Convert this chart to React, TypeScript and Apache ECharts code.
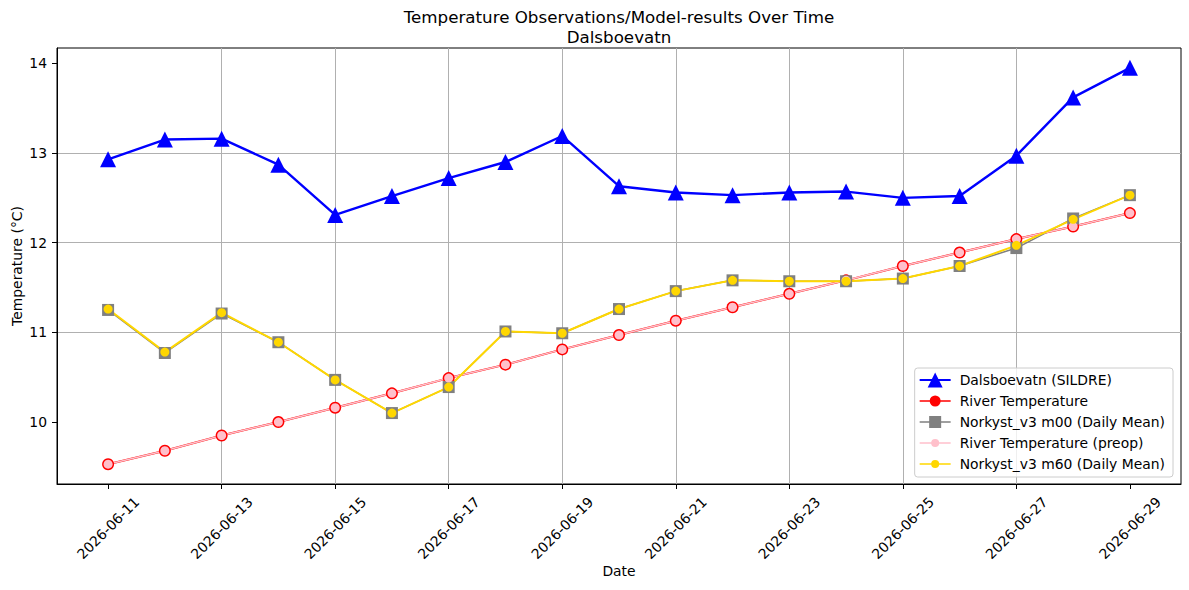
import { useEffect, useRef } from 'react';
import * as echarts from 'echarts';

const dates = [
  '2026-06-11', '2026-06-12', '2026-06-13', '2026-06-14', '2026-06-15',
  '2026-06-16', '2026-06-17', '2026-06-18', '2026-06-19', '2026-06-20',
  '2026-06-21', '2026-06-22', '2026-06-23', '2026-06-24', '2026-06-25',
  '2026-06-26', '2026-06-27', '2026-06-28', '2026-06-29',
];
const sildre = [12.93, 13.15, 13.16, 12.87, 12.31, 12.52, 12.72, 12.9, 13.19, 12.63, 12.56, 12.53, 12.56, 12.57, 12.5, 12.52, 12.97, 13.62, 13.95];
const riverTemp = [9.53, 9.68, 9.85, 10.0, 10.16, 10.32, 10.49, 10.64, 10.81, 10.97, 11.13, 11.28, 11.43, 11.58, 11.74, 11.89, 12.04, 12.18, 12.33];
const norkystM00 = [11.25, 10.77, 11.21, 10.89, 10.47, 10.1, 10.39, 11.01, 10.99, 11.26, 11.46, 11.58, 11.57, 11.57, 11.6, 11.74, 11.94, 12.27, 12.53];
const riverTempPreop = [9.53, 9.68, 9.85, 10.0, 10.16, 10.32, 10.49, 10.64, 10.81, 10.97, 11.13, 11.28, 11.43, 11.58, 11.74, 11.89, 12.04, 12.18, 12.33];
const norkystM60 = [11.26, 10.78, 11.22, 10.89, 10.47, 10.1, 10.39, 11.01, 10.99, 11.26, 11.46, 11.58, 11.57, 11.57, 11.6, 11.74, 11.97, 12.26, 12.53];
const yTicks = [10, 11, 12, 13, 14];
const seriesNames = [
  'Dalsboevatn (SILDRE)',
  'River Temperature',
  'Norkyst_v3 m00 (Daily Mean)',
  'River Temperature (preop)',
  'Norkyst_v3 m60 (Daily Mean)',
];
const titleText = 'Temperature Observations/Model-results Over Time\nDalsboevatn';

const DAY = 86400000;
const t0 = Date.parse(dates[0]);
const dayIdx = dates.map((d) => (Date.parse(d) - t0) / DAY);
const xTicks = dayIdx.filter((v) => v % 2 === 0);
const pts = (vals: number[]) => vals.map((v, i) => [dayIdx[i], v]);
const fmtDate = (v: number) => new Date(t0 + v * DAY).toISOString().slice(0, 10);

const allVals = [...sildre, ...riverTemp, ...norkystM00, ...riverTempPreop, ...norkystM60];
const yLo = Math.min(...allVals);
const yHi = Math.max(...allVals);
const yPad = (yHi - yLo) * 0.05;
const xLo = dayIdx[0];
const xHi = dayIdx[dayIdx.length - 1];
const xPad = (xHi - xLo) * 0.05;

const FONT = 'DejaVu Sans';
const FS = 13.9;

// tiny corner specks keep every legend icon's bounding box at 31x16
const frame = 'M0 0 h0.01 v0.01 h-0.01 Z M30.99 15.99 h0.01 v0.01 h-0.01 Z ';
const lineRect = (w: number) => `M0 ${8 - w / 2} H31 V${8 + w / 2} H0 Z`;
const circ = (r: number) => `M${15.5 - r} 8 A${r} ${r} 0 1 1 ${15.5 + r} 8 A${r} ${r} 0 1 1 ${15.5 - r} 8 Z`;
const icons = [
  'path://' + frame + lineRect(2.2) + ' M15.5 0.5 L23 15.5 L8 15.5 Z',
  'path://' + frame + lineRect(1.5) + ' ' + circ(5.5),
  'path://' + frame + lineRect(1.5) + ' M9.5 2 H21.5 V14 H9.5 Z',
  'path://' + frame + lineRect(1.5) + ' ' + circ(4),
  'path://' + frame + lineRect(1.5) + ' ' + circ(4),
];
const colors = ['#0000ff', '#ff0000', '#808080', '#ffc0cb', '#ffd700'];

export default function App() {
  const ref = useRef<HTMLDivElement>(null);
  useEffect(() => {
    if (!ref.current) return;
    const chart = echarts.init(ref.current, undefined, { renderer: 'svg' });
    const mk = (i: number, vals: number[], symbol: string, size: number, lw: number) => ({
      type: 'line',
      name: seriesNames[i],
      data: pts(vals),
      symbol,
      symbolSize: size,
      showSymbol: true,
      showAllSymbol: true,
      lineStyle: { color: colors[i], width: lw },
      itemStyle: { color: colors[i], borderWidth: 0 },
      emphasis: { disabled: true },
      silent: true,
    });
    chart.setOption({
      animation: false,
      backgroundColor: '#ffffff',
      textStyle: { fontFamily: FONT },
      graphic: [
        {
          type: 'text', x: 619, y: 6.5,
          style: {
            text: titleText, fontFamily: FONT, fontSize: 16.7, lineHeight: 20, fill: '#000',
            align: 'center', verticalAlign: 'top',
          },
        },
      ],
      grid: {
        left: 57, right: 8, top: 48, bottom: 106,
        show: true, borderColor: '#000', borderWidth: 1, backgroundColor: 'transparent',
        containLabel: false, outerBoundsMode: 'none',
      },
      legend: {
        orient: 'vertical',
        right: 16,
        bottom: 113,
        itemWidth: 31,
        itemHeight: 16,
        itemGap: 5,
        padding: [4, 8, 5, 5],
        backgroundColor: 'rgba(255,255,255,0.8)',
        borderColor: '#cccccc',
        borderWidth: 1,
        borderRadius: 3,
        symbolKeepAspect: true,
        itemStyle: { borderWidth: 0 },
        textStyle: { fontFamily: FONT, fontSize: FS, color: '#000', padding: [0, 0, 0, 4] },
        data: seriesNames.map((n, i) => ({ name: n, icon: icons[i], itemStyle: { color: colors[i], borderWidth: 0 } })),
        selectedMode: false,
      },
      xAxis: {
        type: 'value',
        min: xLo - xPad,
        max: xHi + xPad,
        minInterval: 2,
        maxInterval: 2,
        name: 'Date',
        nameLocation: 'middle',
        nameGap: 80,
        nameMoveOverlap: false,
        nameTextStyle: { fontFamily: FONT, fontSize: FS, color: '#000' },
        axisLine: { show: true, onZero: false, lineStyle: { color: '#000', width: 1 } },
        axisTick: { show: true, length: 5, customValues: xTicks, lineStyle: { color: '#000', width: 1 } },
        axisLabel: {
          customValues: xTicks,
          rotate: 45,
          align: 'center',
          verticalAlign: 'middle',
          margin: 44,
          fontFamily: FONT,
          fontSize: FS,
          color: '#000',
          showMinLabel: true,
          showMaxLabel: true,
          formatter: (v: number) => (Number.isInteger(v) && v % 2 === 0 ? fmtDate(v) : ''),
        },
        splitLine: { show: true, showMinLine: false, showMaxLine: false, lineStyle: { color: '#b0b0b0', width: 1 } },
      },
      yAxis: {
        type: 'value',
        min: yLo - yPad,
        max: yHi + yPad,
        minInterval: 1,
        maxInterval: 1,
        name: 'Temperature (°C)',
        nameLocation: 'middle',
        nameRotate: 90,
        nameGap: 33,
        nameMoveOverlap: false,
        nameTextStyle: { fontFamily: FONT, fontSize: FS, color: '#000' },
        axisLine: { show: true, onZero: false, lineStyle: { color: '#000', width: 1 } },
        axisTick: { show: true, length: 5, customValues: yTicks, lineStyle: { color: '#000', width: 1 } },
        axisLabel: {
          customValues: yTicks,
          margin: 10,
          fontFamily: FONT,
          fontSize: FS,
          color: '#000',
          formatter: (v: number) => (Number.isInteger(v) ? String(v) : ''),
        },
        splitLine: { show: true, showMinLine: false, showMaxLine: false, lineStyle: { color: '#b0b0b0', width: 1 } },
      },
      series: [
        mk(0, sildre, 'triangle', 16, 2.4),
        mk(1, riverTemp, 'circle', 12, 2),
        mk(2, norkystM00, 'rect', 12, 1.5),
        mk(3, riverTempPreop, 'circle', 9, 1.5),
        mk(4, norkystM60, 'circle', 9, 2),
      ],
    });
    return () => chart.dispose();
  }, []);
  return <div ref={ref} style={{ width: 1189, height: 590, position: 'absolute', left: 0, top: 0 }} />;
}
